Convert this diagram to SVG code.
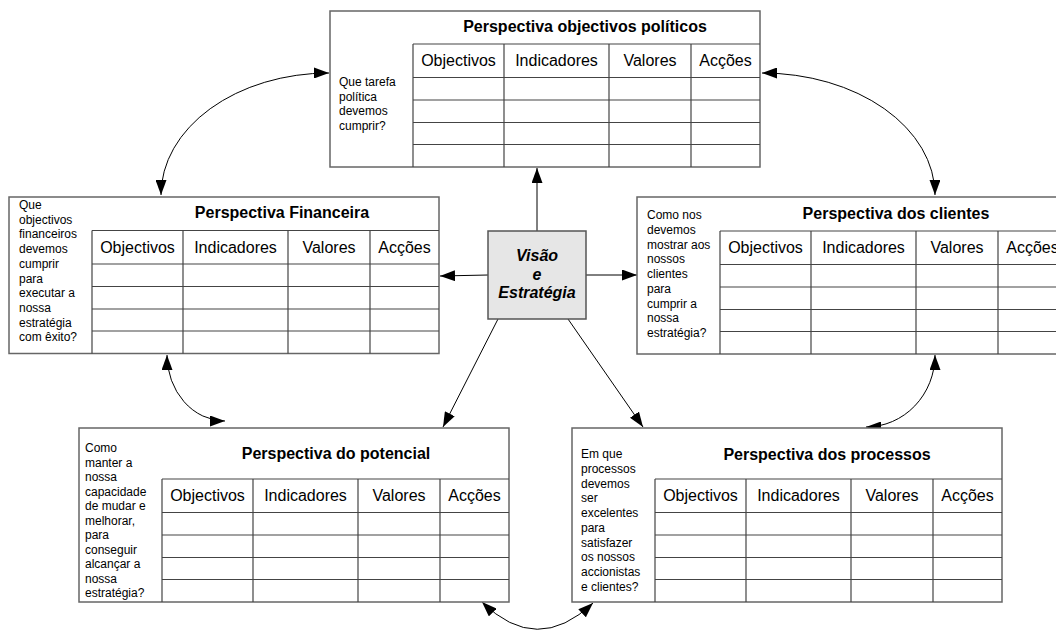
<svg xmlns="http://www.w3.org/2000/svg" xmlns:xlink="http://www.w3.org/1999/xlink" width="1056" height="632" viewBox="0 0 1056 632">
  <style>
    .box { fill: #ffffff; stroke: #666666; stroke-width: 1.5; }
    .core { fill: #e6e6e6; stroke: #555555; stroke-width: 1.5; }
    .grid line, .grid rect { fill: none; stroke: #444444; stroke-width: 1.2; }
    .title { font-family: "Liberation Sans", Arial, sans-serif; font-size: 16px; font-weight: bold; text-anchor: middle; fill: #000; }
    .head { font-family: "Liberation Sans", Arial, sans-serif; font-size: 16px; text-anchor: middle; fill: #000; }
    .note { font-family: "Liberation Sans", Arial, sans-serif; font-size: 12px; fill: #000; }
    .core-text { font-family: "Liberation Sans", Arial, sans-serif; font-size: 16px; font-weight: bold; font-style: italic; text-anchor: middle; fill: #000; }
    .link { fill: none; stroke: #000; stroke-width: 1; }
  </style>
  <defs>
    <marker id="arrow" markerUnits="userSpaceOnUse" markerWidth="15" markerHeight="11" viewBox="0 0 15 11" refX="15" refY="5.5" orient="auto-start-reverse">
      <path d="M0,0 L15,5.5 L0,11 z" fill="#000"/>
    </marker>
    <!-- 4-column table: header row plus four empty rows -->
    <g id="grid" class="grid">
      <line x1="0" y1="0" x2="347" y2="0"/>
      <line x1="0" y1="33.5" x2="347" y2="33.5"/>
      <line x1="0" y1="56" x2="347" y2="56"/>
      <line x1="0" y1="78.5" x2="347" y2="78.5"/>
      <line x1="0" y1="100.5" x2="347" y2="100.5"/>
      <line x1="0" y1="0" x2="0" y2="123"/>
      <line x1="91" y1="0" x2="91" y2="123"/>
      <line x1="196" y1="0" x2="196" y2="123"/>
      <line x1="278" y1="0" x2="278" y2="123"/>
    </g>
  </defs>

  <rect width="1056" height="632" fill="#ffffff"/>

  <!-- connectors -->
  <g id="connectors">
    <line class="link" x1="537" y1="231" x2="537" y2="168" marker-end="url(#arrow)"/>
    <line class="link" x1="488" y1="275" x2="440" y2="276" marker-end="url(#arrow)"/>
    <line class="link" x1="586" y1="275" x2="637" y2="275" marker-end="url(#arrow)"/>
    <line class="link" x1="498" y1="319" x2="443" y2="427" marker-end="url(#arrow)"/>
    <line class="link" x1="568" y1="319" x2="643" y2="427" marker-end="url(#arrow)"/>
    <path class="link" d="M161,195 A168,122 0 0 1 329,73" marker-start="url(#arrow)" marker-end="url(#arrow)"/>
    <path class="link" d="M762,73 A173,122 0 0 1 935,195" marker-start="url(#arrow)" marker-end="url(#arrow)"/>
    <path class="link" d="M167,355 A58,66 0 0 0 225,421" marker-start="url(#arrow)" marker-end="url(#arrow)"/>
    <path class="link" d="M935,355 A69,72 0 0 1 866,427" marker-start="url(#arrow)" marker-end="url(#arrow)"/>
    <path class="link" d="M482,602 Q537,656 593,603" marker-start="url(#arrow)" marker-end="url(#arrow)"/>
  </g>

  <!-- political objectives -->
  <g id="politicos">
    <rect class="box" x="330" y="11" width="430" height="156"/>
    <use xlink:href="#grid" x="413" y="44"/>
    <text class="title" x="585" y="32">Perspectiva objectivos políticos</text>
    <text class="head" y="66"><tspan x="458.5">Objectivos</tspan><tspan x="556.5">Indicadores</tspan><tspan x="650">Valores</tspan><tspan x="725.5">Acções</tspan></text>
    <text class="note" y="86">
      <tspan x="339">Que tarefa</tspan>
      <tspan x="339" dy="14.7">política</tspan>
      <tspan x="339" dy="14.7">devemos</tspan>
      <tspan x="339" dy="14.7">cumprir?</tspan>
    </text>
  </g>

  <!-- financial -->
  <g id="financeira">
    <rect class="box" x="9" y="197" width="430" height="156.5"/>
    <use xlink:href="#grid" x="92" y="230.5"/>
    <text class="title" x="282" y="218">Perspectiva Financeira</text>
    <text class="head" y="252.5"><tspan x="137.5">Objectivos</tspan><tspan x="235.5">Indicadores</tspan><tspan x="329">Valores</tspan><tspan x="404.5">Acções</tspan></text>
    <text class="note" y="209">
      <tspan x="19">Que</tspan>
      <tspan x="19" dy="14.7">objectivos</tspan>
      <tspan x="19" dy="14.7">financeiros</tspan>
      <tspan x="19" dy="14.7">devemos</tspan>
      <tspan x="19" dy="14.7">cumprir</tspan>
      <tspan x="19" dy="14.7">para</tspan>
      <tspan x="19" dy="14.7">executar a</tspan>
      <tspan x="19" dy="14.7">nossa</tspan>
      <tspan x="19" dy="14.7">estratégia</tspan>
      <tspan x="19" dy="14.7">com êxito?</tspan>
    </text>
  </g>

  <!-- customers -->
  <g id="clientes">
    <rect class="box" x="637" y="197" width="430" height="157"/>
    <use xlink:href="#grid" x="720" y="231"/>
    <text class="title" x="896" y="219">Perspectiva dos clientes</text>
    <text class="head" y="253"><tspan x="765.5">Objectivos</tspan><tspan x="863.5">Indicadores</tspan><tspan x="957">Valores</tspan><tspan x="1032.5">Acções</tspan></text>
    <text class="note" y="219.3">
      <tspan x="647">Como nos</tspan>
      <tspan x="647" dy="14.7">devemos</tspan>
      <tspan x="647" dy="14.7">mostrar aos</tspan>
      <tspan x="647" dy="14.7">nossos</tspan>
      <tspan x="647" dy="14.7">clientes</tspan>
      <tspan x="647" dy="14.7">para</tspan>
      <tspan x="647" dy="14.7">cumprir a</tspan>
      <tspan x="647" dy="14.7">nossa</tspan>
      <tspan x="647" dy="14.7">estratégia?</tspan>
    </text>
  </g>

  <!-- vision and strategy -->
  <g id="visao">
    <rect class="core" x="488" y="231" width="98" height="88"/>
    <text class="core-text" x="537" y="261">Visão</text>
    <text class="core-text" x="537" y="279.5">e</text>
    <text class="core-text" x="537" y="298">Estratégia</text>
  </g>

  <!-- potential -->
  <g id="potencial">
    <rect class="box" x="79" y="428" width="430" height="174"/>
    <use xlink:href="#grid" x="162" y="479"/>
    <text class="title" x="336" y="459">Perspectiva do potencial</text>
    <text class="head" y="500.5"><tspan x="207.5">Objectivos</tspan><tspan x="305.5">Indicadores</tspan><tspan x="399">Valores</tspan><tspan x="474.5">Acções</tspan></text>
    <text class="note" y="452.3">
      <tspan x="85">Como</tspan>
      <tspan x="85" dy="14.5">manter a</tspan>
      <tspan x="85" dy="14.5">nossa</tspan>
      <tspan x="85" dy="14.5">capacidade</tspan>
      <tspan x="85" dy="14.5">de mudar e</tspan>
      <tspan x="85" dy="14.5">melhorar,</tspan>
      <tspan x="85" dy="14.5">para</tspan>
      <tspan x="85" dy="14.5">conseguir</tspan>
      <tspan x="85" dy="14.5">alcançar a</tspan>
      <tspan x="85" dy="14.5">nossa</tspan>
      <tspan x="85" dy="14.5">estratégia?</tspan>
    </text>
  </g>

  <!-- processes -->
  <g id="processos">
    <rect class="box" x="572" y="428" width="430" height="174"/>
    <use xlink:href="#grid" x="655" y="479"/>
    <text class="title" x="827" y="460">Perspectiva dos processos</text>
    <text class="head" y="500.5"><tspan x="700.5">Objectivos</tspan><tspan x="798.5">Indicadores</tspan><tspan x="892">Valores</tspan><tspan x="967.5">Acções</tspan></text>
    <text class="note" y="458.3">
      <tspan x="581">Em que</tspan>
      <tspan x="581" dy="14.7">processos</tspan>
      <tspan x="581" dy="14.7">devemos</tspan>
      <tspan x="581" dy="14.7">ser</tspan>
      <tspan x="581" dy="14.7">excelentes</tspan>
      <tspan x="581" dy="14.7">para</tspan>
      <tspan x="581" dy="14.7">satisfazer</tspan>
      <tspan x="581" dy="14.7">os nossos</tspan>
      <tspan x="581" dy="14.7">accionistas</tspan>
      <tspan x="581" dy="14.7">e clientes?</tspan>
    </text>
  </g>
</svg>
